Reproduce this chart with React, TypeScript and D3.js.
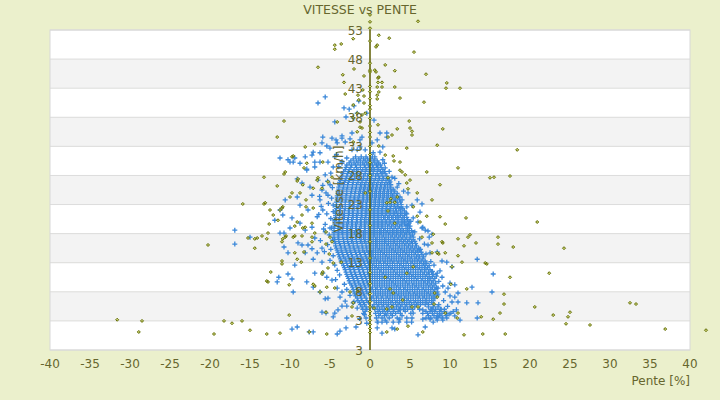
import { scaleLinear } from 'd3';
import React from 'react';

const width = 720;
const height = 400;

// axis ticks
const xTicks = [-40, -35, -30, -25, -20, -15, -10, -5, 0, 5, 10, 15, 20, 25, 30, 35, 40];
const yTicks = [53, 48, 43, 38, 33, 28, 23, 18, 13, 8, 3, -2];
const yTickLabels = ['53', '48', '43', '38', '33', '28', '23', '18', '13', '8', '3', '3'];

// blue series, dense core: [vitesse, pentes]
const blueCore: [number, number[]][] = [
	[31.2, [-1.8, -1.1, -0.5, 0.3]],
	[30.5, [-2.4, -1.7, -1.2, -0.6, -0.1, 0.4, 0.9]],
	[29.8, [-2.9, -2.3, -1.8, -1.2, -0.7, -0.2, 0.3, 0.8, 1.3]],
	[29.0, [-3.1, -2.6, -2.0, -1.5, -0.9, -0.4, 0.2, 0.6, 1.1, 1.6]],
	[28.3, [-3.4, -2.8, -2.3, -1.7, -1.2, -0.6, -0.1, 0.4, 0.9, 1.4, 1.9]],
	[27.5, [-3.6, -3.0, -2.5, -1.9, -1.4, -0.8, -0.3, 0.2, 0.7, 1.2, 1.7, 2.2]],
	[26.8, [-3.8, -3.2, -2.7, -2.1, -1.5, -1.0, -0.5, 0.1, 0.5, 1.0, 1.5, 2.0, 2.4]],
	[26.0, [-3.9, -3.3, -2.8, -2.2, -1.7, -1.1, -0.6, -0.1, 0.4, 0.9, 1.4, 1.9, 2.5]],
	[25.3, [-4.0, -3.4, -2.9, -2.3, -1.8, -1.2, -0.7, -0.2, 0.3, 0.8, 1.3, 1.8, 2.3, 2.7, 3.1]],
	[24.5, [-4.1, -3.5, -3.0, -2.4, -1.9, -1.3, -0.8, -0.3, 0.3, 0.8, 1.3, 1.8, 2.3, 2.8, 3.3]],
	[23.8, [-4.1, -3.6, -3.0, -2.5, -1.9, -1.4, -0.8, -0.3, 0.2, 0.7, 1.2, 1.7, 2.2, 2.7, 3.2, 3.7]],
	[23.0, [-4.2, -3.6, -3.1, -2.5, -2.0, -1.4, -0.9, -0.4, 0.2, 0.7, 1.2, 1.7, 2.2, 2.7, 3.1, 3.5, 3.9]],
	[22.3, [-4.2, -3.7, -3.1, -2.6, -2.0, -1.5, -0.9, -0.4, 0.1, 0.6, 1.1, 1.6, 2.1, 2.6, 3.2, 3.6, 4.1]],
	[21.5, [-4.3, -3.7, -3.2, -2.6, -2.1, -1.5, -1.0, -0.4, 0.1, 0.6, 1.1, 1.6, 2.1, 2.6, 3.1, 3.5, 4.0, 4.5]],
	[20.8, [-4.3, -3.8, -3.2, -2.7, -2.1, -1.6, -1.0, -0.5, 0.1, 0.6, 1.1, 1.7, 2.2, 2.7, 3.2, 3.6, 4.1, 4.6]],
	[20.0, [-4.4, -3.8, -3.3, -2.7, -2.2, -1.6, -1.1, -0.5, 0.0, 0.6, 1.1, 1.6, 2.1, 2.6, 3.1, 3.6, 4.1, 4.5, 4.9]],
	[19.3, [-4.4, -3.9, -3.3, -2.8, -2.2, -1.7, -1.1, -0.6, 0.1, 0.6, 1.1, 1.6, 2.2, 2.7, 3.2, 3.7, 4.0, 4.5, 5.0]],
	[18.5, [-4.5, -3.9, -3.4, -2.8, -2.3, -1.7, -1.2, -0.6, 0.1, 0.6, 1.2, 1.7, 2.2, 2.8, 3.3, 3.8, 4.2, 4.7, 5.2]],
	[17.8, [-4.5, -3.9, -3.4, -2.8, -2.3, -1.7, -1.2, -0.6, 0.1, 0.6, 1.2, 1.7, 2.3, 2.8, 3.3, 3.8, 4.3, 4.6, 5.0, 5.3]],
	[17.0, [-4.4, -3.9, -3.3, -2.8, -2.2, -1.7, -1.1, -0.6, 0.1, 0.7, 1.2, 1.8, 2.3, 2.9, 3.4, 3.9, 4.4, 4.9, 5.4]],
	[16.3, [-4.3, -3.8, -3.2, -2.7, -2.1, -1.6, -1.0, -0.5, 0.1, 0.7, 1.2, 1.8, 2.3, 2.9, 3.4, 4.0, 4.5, 5.0, 5.3, 5.7]],
	[15.5, [-4.2, -3.6, -3.1, -2.5, -2.0, -1.4, -0.9, -0.4, 0.1, 0.7, 1.2, 1.8, 2.4, 2.9, 3.5, 4.0, 4.6, 5.1, 5.6, 6.1]],
	[14.8, [-4.0, -3.5, -2.9, -2.4, -1.8, -1.3, -0.7, -0.2, 0.2, 0.7, 1.3, 1.8, 2.4, 3.0, 3.5, 4.1, 4.6, 5.2, 5.7, 6.0, 6.4]],
	[14.0, [-3.8, -3.3, -2.7, -2.2, -1.6, -1.1, -0.5, 0.2, 0.7, 1.3, 1.9, 2.4, 3.0, 3.6, 4.1, 4.7, 5.2, 5.8, 6.2, 6.7]],
	[13.3, [-3.6, -3.0, -2.5, -1.9, -1.4, -0.8, -0.3, 0.2, 0.8, 1.3, 1.9, 2.5, 3.0, 3.6, 4.2, 4.7, 5.3, 5.9, 6.4, 6.9]],
	[12.5, [-3.3, -2.8, -2.2, -1.7, -1.1, -0.6, -0.1, 0.3, 0.8, 1.4, 2.0, 2.5, 3.1, 3.7, 4.2, 4.8, 5.4, 5.9, 6.5, 6.9, 7.4]],
	[11.8, [-3.1, -2.5, -2.0, -1.4, -0.9, -0.3, 0.3, 0.9, 1.4, 2.0, 2.6, 3.1, 3.7, 4.3, 4.8, 5.4, 6.0, 6.5, 7.0, 7.5]],
	[11.0, [-2.9, -2.3, -1.8, -1.2, -0.7, -0.2, 0.3, 0.9, 1.5, 2.0, 2.6, 3.2, 3.7, 4.3, 4.9, 5.4, 6.0, 6.6, 7.1, 7.4, 7.9]],
	[10.3, [-2.7, -2.1, -1.6, -1.0, -0.5, 0.3, 0.9, 1.5, 2.1, 2.6, 3.2, 3.8, 4.3, 4.9, 5.5, 6.0, 6.6, 7.2, 7.6, 8.1]],
	[9.5, [-2.5, -1.9, -1.4, -0.8, -0.3, 0.3, 0.9, 1.5, 2.1, 2.7, 3.2, 3.8, 4.4, 4.9, 5.5, 6.1, 6.7, 7.2, 7.7, 8.2]],
	[8.8, [-2.2, -1.7, -1.1, -0.6, 0.3, 0.9, 1.5, 2.1, 2.7, 3.3, 3.8, 4.4, 5.0, 5.6, 6.1, 6.7, 7.3, 7.8, 8.3]],
	[8.0, [-2.0, -1.5, -0.9, -0.4, 0.4, 1.0, 1.6, 2.2, 2.7, 3.3, 3.9, 4.5, 5.0, 5.6, 6.2, 6.8, 7.3, 7.9, 8.4]],
	[7.3, [-1.8, -1.2, -0.7, 0.4, 1.0, 1.6, 2.2, 2.8, 3.4, 3.9, 4.5, 5.1, 5.7, 6.2, 6.8, 7.4, 7.9, 8.4]],
	[6.5, [-1.5, -1.0, -0.4, 0.5, 1.1, 1.7, 2.3, 2.8, 3.4, 4.0, 4.6, 5.1, 5.7, 6.3, 6.9, 7.4, 7.9]],
	[5.8, [-1.2, -0.7, 0.5, 1.1, 1.7, 2.3, 2.9, 3.5, 4.0, 4.6, 5.2, 5.8, 6.3, 6.9, 7.3, 8.0, 8.6]],
	[5.0, [-0.9, -0.4, 0.6, 1.2, 1.8, 2.4, 3.0, 3.6, 4.2, 4.7, 5.3, 6.2, 7.6, 8.2, 8.8, 9.3]],
	[4.3, [-0.8, 0.7, 1.3, 1.9, 2.6, 3.2, 3.8, 5.1, 6.6, 7.2, 7.8, 8.4, 9.0, 9.6, 10.1]],
	[3.5, [-0.5, 0.8, 1.5, 2.4, 3.4, 4.6, 7.0, 7.6, 8.3, 9.1]],
	[2.8, [1.0, 2.1, 3.6, 5.2, 7.9]],
];

// blue series, dense core, points lying between the rows above
const blueCoreMid: [number, number[]][] = [
	[30.85, [-2.1, -1.4, -0.8, -0.3, 0.1, 0.6]],
	[30.15, [-2.6, -2.0, -1.5, -0.9, -0.4, 0.1, 0.6, 1.1]],
	[29.4, [-3.0, -2.4, -1.7, -1.2, -0.6, -0.1, 0.4, 0.9, 1.4]],
	[28.65, [-3.3, -2.7, -2.2, -1.7, -1.1, -0.6, -0.1, 0.4, 0.9, 1.3, 1.8]],
	[27.9, [-3.5, -2.9, -2.4, -1.9, -1.3, -0.8, -0.3, 0.2, 0.7, 1.1, 1.6, 2.1]],
	[27.15, [-3.7, -3.1, -2.6, -2.1, -1.5, -1.0, -0.5, 0.0, 0.5, 1.0, 1.5, 2.0, 2.4]],
	[26.4, [-3.8, -3.3, -2.8, -2.2, -1.7, -1.2, -0.7, -0.2, 0.3, 0.8, 1.3, 1.8, 2.2, 2.6]],
	[25.65, [-3.9, -3.4, -2.9, -2.3, -1.8, -1.3, -0.8, -0.3, 0.2, 0.7, 1.2, 1.7, 2.2, 2.6, 2.9]],
	[24.9, [-4.0, -3.5, -2.9, -2.4, -1.9, -1.4, -0.9, -0.4, 0.1, 0.6, 1.1, 1.6, 2.1, 2.6, 3.0, 3.4]],
	[24.15, [-4.1, -3.6, -3.0, -2.5, -2.0, -1.5, -0.9, -0.4, 0.1, 0.6, 1.1, 1.6, 2.1, 2.6, 3.0, 3.5]],
	[23.4, [-4.2, -3.6, -3.1, -2.6, -2.1, -1.5, -1.0, -0.5, 0.1, 0.5, 1.0, 1.5, 2.0, 2.5, 3.0, 3.4, 3.8]],
	[22.65, [-4.2, -3.7, -3.1, -2.6, -2.1, -1.6, -1.0, -0.5, 0.0, 0.5, 1.0, 1.5, 2.0, 2.5, 3.0, 3.4, 3.9]],
	[21.9, [-4.3, -3.8, -3.2, -2.7, -2.2, -1.6, -1.1, -0.6, -0.1, 0.4, 0.9, 1.4, 1.9, 2.4, 2.9, 3.3, 3.8, 4.3]],
	[21.15, [-4.3, -3.8, -3.3, -2.7, -2.2, -1.7, -1.1, -0.6, -0.1, 0.4, 0.9, 1.4, 1.9, 2.4, 2.9, 3.4, 3.8, 4.3]],
	[20.4, [-4.4, -3.9, -3.3, -2.8, -2.3, -1.7, -1.2, -0.7, -0.2, 0.4, 0.9, 1.4, 1.9, 2.4, 2.9, 3.4, 3.9, 4.3, 4.7]],
	[19.65, [-4.4, -3.9, -3.4, -2.9, -2.3, -1.8, -1.2, -0.7, -0.2, 0.4, 0.9, 1.4, 1.9, 2.4, 2.9, 3.4, 3.9, 4.3, 4.8]],
	[18.9, [-4.5, -4.0, -3.4, -2.9, -2.4, -1.8, -1.3, -0.7, -0.2, 0.4, 0.9, 1.4, 1.9, 2.5, 3.0, 3.5, 4.0, 4.5, 4.9]],
	[18.15, [-4.5, -4.0, -3.5, -2.9, -2.4, -1.9, -1.3, -0.8, -0.2, 0.4, 0.9, 1.4, 2.0, 2.5, 3.0, 3.5, 4.0, 4.5, 4.9, 5.3]],
	[17.4, [-4.5, -4.0, -3.4, -2.9, -2.4, -1.8, -1.3, -0.8, -0.2, 0.4, 0.9, 1.5, 2.0, 2.6, 3.1, 3.6, 4.1, 4.6, 5.1, 5.4]],
	[16.65, [-4.4, -3.9, -3.3, -2.8, -2.3, -1.7, -1.2, -0.7, -0.2, 0.4, 0.9, 1.5, 2.0, 2.6, 3.1, 3.7, 4.2, 4.7, 5.2, 5.6]],
	[15.9, [-4.3, -3.7, -3.2, -2.6, -2.1, -1.6, -1.0, -0.5, -0.1, 0.4, 0.9, 1.5, 2.1, 2.6, 3.2, 3.7, 4.3, 4.8, 5.3, 5.8]],
	[15.15, [-4.1, -3.6, -3.0, -2.5, -1.9, -1.4, -0.9, -0.4, 0.0, 0.4, 1.0, 1.5, 2.1, 2.7, 3.2, 3.8, 4.3, 4.9, 5.4, 5.9, 6.2]],
	[14.4, [-3.9, -3.4, -2.8, -2.3, -1.7, -1.2, -0.6, -0.1, 0.4, 1.0, 1.6, 2.1, 2.7, 3.3, 3.8, 4.4, 4.9, 5.5, 6.0, 6.5]],
	[13.65, [-3.7, -3.1, -2.6, -2.0, -1.5, -0.9, -0.4, 0.0, 0.5, 1.0, 1.6, 2.2, 2.7, 3.3, 3.9, 4.4, 5.0, 5.6, 6.1, 6.6]],
	[12.9, [-3.5, -2.9, -2.4, -1.8, -1.3, -0.7, -0.2, 0.0, 0.5, 1.1, 1.7, 2.2, 2.8, 3.4, 3.9, 4.5, 5.1, 5.6, 6.2, 6.7, 7.1]],
	[12.15, [-3.2, -2.6, -2.1, -1.5, -1.0, -0.4, 0.0, 0.6, 1.1, 1.7, 2.3, 2.8, 3.4, 4.0, 4.5, 5.1, 5.7, 6.2, 6.8, 7.2]],
	[11.4, [-3.0, -2.4, -1.9, -1.3, -0.8, -0.3, 0.0, 0.6, 1.2, 1.7, 2.3, 2.9, 3.4, 4.0, 4.6, 5.1, 5.7, 6.3, 6.8, 7.3, 7.7]],
	[10.65, [-2.8, -2.2, -1.7, -1.1, -0.6, -0.1, 0.6, 1.2, 1.8, 2.3, 2.9, 3.5, 4.0, 4.6, 5.2, 5.7, 6.3, 6.9, 7.4, 7.8]],
	[9.9, [-2.6, -2.0, -1.5, -0.9, -0.4, 0.0, 0.6, 1.2, 1.8, 2.4, 2.9, 3.5, 4.1, 4.6, 5.2, 5.8, 6.4, 6.9, 7.4, 7.9]],
	[9.15, [-2.3, -1.8, -1.2, -0.7, -0.2, 0.6, 1.2, 1.8, 2.4, 3.0, 3.5, 4.1, 4.7, 5.3, 5.8, 6.4, 7.0, 7.5, 8.0]],
	[8.4, [-2.1, -1.6, -1.0, -0.5, 0.1, 0.7, 1.3, 1.9, 2.4, 3.0, 3.6, 4.2, 4.7, 5.3, 5.9, 6.5, 7.0, 7.6, 8.1]],
	[7.65, [-1.9, -1.3, -0.8, -0.2, 0.7, 1.3, 1.9, 2.5, 3.1, 3.6, 4.2, 4.8, 5.4, 5.9, 6.5, 7.1, 7.6, 8.1]],
	[6.9, [-1.6, -1.1, -0.5, 0.2, 0.8, 1.4, 2.0, 2.5, 3.1, 3.7, 4.3, 4.8, 5.4, 6.0, 6.6, 7.1, 7.7]],
	[6.15, [-1.3, -0.8, -0.2, 0.8, 1.4, 2.0, 2.6, 3.2, 3.7, 4.3, 4.9, 5.5, 6.0, 6.6, 7.1, 7.7]],
	[5.4, [-1.0, -0.5, 0.3, 0.9, 1.5, 2.1, 2.7, 3.3, 3.8, 4.4, 5.0, 5.6, 7.3, 7.9, 8.5]],
	[4.65, [-0.6, 1.0, 1.6, 2.2, 2.9, 3.5, 4.4, 7.0, 7.5, 8.1, 8.7, 9.3]],
	[3.9, [1.1, 1.8, 2.8, 4.0, 7.3, 8.0, 8.7, 9.5]],
];

// blue series, edges of the core: [pente, vitesse]
const blueFringe: [number, number][] = [
	[-4.9, 28.4], [-5.3, 27], [-4.7, 25.9], [-5.5, 25], [-4.8, 24.1], [-5.2, 23.2], [-4.6, 21.8],
	[-5.4, 21.4], [-4.9, 20.6], [-5.6, 19.6], [-4.8, 19], [-5.1, 17.8], [-4.7, 16.9], [-5.3, 16.1],
	[-4.9, 15.3], [-5.7, 14.9], [-4.6, 14.2], [-5.0, 13.4], [-4.4, 12.6], [-4.1, 11.7], [-3.8, 10.9],
	[-4.3, 10.1], [-3.2, 9.3], [-2.9, 8.4], [-2.5, 7.4], [-2.0, 6.3], [-1.6, 5.2], [-0.7, 4.1],
	[-1.3, 3.4], [-0.4, 2.6], [-5.9, 26.3], [-6.3, 24.4], [-6.1, 22.7], [-6.4, 21.3], [-5.8, 18.8],
	[-6.2, 16.8], [-6.0, 15.5], [-3.9, 29.5], [-3.5, 30.4], [-4.2, 31.6],
	[3.6, 26.6], [4.2, 25.3], [3.9, 22.5], [4.6, 21.4], [5.1, 20.1], [4.7, 19.4], [5.6, 18.3],
	[6.2, 17.1], [6.8, 16.2], [6.3, 15.3], [7.0, 14.5], [7.6, 13.2], [8.0, 12.6], [7.8, 11.5],
	[8.3, 10.7], [8.6, 9.8], [9.1, 9.0], [8.5, 7.6], [9.2, 6.5], [9.7, 5.5], [8.9, 5.0], [10.4, 4.6],
	[9.9, 4.2], [10.8, 4.9], [2.4, 28.7], [1.8, 30.1], [3.1, 27.5],
];

// blue series, scattered points above and left
const blueScatterLeft: [number, number][] = [
	[-5.6, 41.5], [-6.5, 40.45], [-3.25, 39.6], [-2.6, 39.4], [-2, 39.95], [-1.4, 40.8], [-3, 38.05],
	[-2.1, 37.9], [-1.6, 38.7], [-4.4, 37.2], [-0.4, 38.7], [0.5, 37.5],
	[-5.9, 34.6], [-6, 33.6], [-5, 32.7], [-3.1, 33.75], [-2.5, 34.3], [-1.25, 34.1], [-1, 34.6],
	[-2.25, 35.3], [-3.5, 34.4], [-4.1, 33.6], [-7.1, 32], [-8.1, 31.2], [-7.25, 31.5], [-8.75, 30.1],
	[-9.6, 30.3], [-10.25, 30.7], [-7.9, 28.9], [-6.9, 29.45], [-6.25, 30.3], [-5.25, 30.3], [-4.4, 31.2],
	[-4.6, 29.45], [-3.5, 30.1], [-2.9, 31], [-2.25, 32.4], [-1.6, 32.4], [-0.6, 32.4], [-1.25, 32.9],
	[-4.75, 34.4], [-4.25, 34.1], [-3.5, 34.8], [-5.4, 33.06],
	[-11.25, 31], [-10, 30.3], [-9.4, 31], [-6.9, 30.3], [-6.25, 31.9], [-7.9, 29.1], [-9.1, 27.4],
	[-8.5, 26.7], [-7.5, 26], [-9.1, 24.3], [-7.25, 24.6], [-6.25, 23.8], [-11.25, 22.06], [-10.9, 21.2],
	[-9.75, 20.7], [-8.75, 19.8], [-7.25, 19.1], [-6.6, 20.9], [-5.9, 22.06], [-6, 25.5], [-6.5, 27.2],
	[-5.6, 28.1], [-5, 26.4], [-5.25, 24.6], [-4.6, 22.9], [-4.4, 20.3], [-5, 18.97], [-5.6, 18.3],
	[-6.9, 17.25], [-8.1, 18.6], [-10, 18.97], [-11.9, 20.3], [-10.6, 23.8], [-8.75, 22.9], [-7.75, 22.06],
	[-16.9, 18.6], [-15, 17.4], [-16.9, 16.2], [-11.25, 18.1], [-10.75, 18.1], [-10.75, 15.7], [-10.25, 14.7],
	[-9.4, 12.6], [-9, 16.4], [-8.5, 16.05], [-7.75, 16.05], [-8.1, 14.7], [-7.25, 15.4], [-6.6, 14.7],
	[-7.1, 13.6], [-6, 13.1], [-11.4, 10.5], [-11.6, 9.7], [-10.25, 11.06], [-9.75, 10.2], [-9.6, 7.97],
	[-7.9, 9.7], [-6.9, 11.2], [-7.1, 8.8], [-6.25, 7.97], [-5.6, 6.8], [-5.25, 6.9], [-6, 4.5],
	[-5.5, 4.35], [-4.6, 3.7], [-4, 4.9], [-4.4, 4.35], [-2.9, 3.5], [-3, 1.8], [-3.75, 1.25],
	[-4.1, 0.75], [-7.6, 1.1], [-7.1, 1.1], [-9.1, 1.95], [-9.75, 1.6], [-3.5, 5.55], [-2.9, 5.55],
	[-2.1, 6.1], [-1.75, 1.95], [-4.75, 10], [-5.4, 10.5], [-5.9, 11.2], [-4.1, 8.65], [-3.5, 7.97],
	[-3.75, 7.1], [-3.1, 6.4],
];

// blue series, scattered points right of the axis
const blueScatterRight: [number, number][] = [
	[1.25, 35.3], [0.9, 34.1], [1.6, 32.9], [1.25, 32], [0.25, 33.6], [2.1, 35.3], [2.1, 34.6],
	[0.4, 31.9], [0.6, 31.2], [1.6, 30.7], [1, 29.8], [1.9, 29.3], [1.6, 28.6], [2.75, 27.7],
	[2.5, 26.9], [3.4, 26], [3.75, 24.3], [4, 23.8], [4.75, 25], [4.6, 22.6], [5.25, 22.9], [5.9, 23.8],
	[6.25, 21.7], [6.5, 23.1], [5.4, 20.7], [6, 20], [6.5, 18.97], [6.9, 18.6], [7.25, 18.45],
	[7.4, 17.4], [6.6, 19.1],
	[7.75, 17.9], [7.25, 16.05], [7.5, 14.7], [8.4, 14.85], [9, 13.3], [9.6, 13.1], [10.25, 12.3],
	[8.75, 11.6], [8.4, 11.2], [9, 10.5], [10, 9.5], [10.6, 9.2], [11, 7.8], [10, 7.3], [10.6, 7.1],
	[10.25, 6.25], [11, 6.25], [12.1, 6.1], [12.75, 8.8], [13.4, 13.6], [15.4, 11.06], [15.25, 7.97],
	[13.5, 6.1], [13.4, 3.5], [11.25, 3.15], [9.6, 3.5], [9, 3.5], [8.5, 3.7], [8.75, 4], [9.1, 3.15],
	[8.4, 3.15], [10.6, 3.85], [6.9, 1.95], [6, 0.6], [4.6, 2.8], [3.75, 3.3], [2.9, 2.8], [2.75, 1.8],
	[1.9, 3.15], [1.5, 2.8], [0.9, 2.8], [0.9, 1.8], [1.5, 0.9], [3.1, 1.6], [2.1, 4], [3.75, 4.9],
	[5.4, 4.35], [6.6, 4.9], [7.75, 4.9], [7.5, 3.3], [6.6, 3.3], [5.25, 3.5], [8.1, 6.9], [9.4, 7.97],
	[9.75, 8.65], [8.5, 8.65],
];

// olive series: [pente, vitesse]
const olivePoints: [number, number][] = [
	// upper part
	[6, 54.5], [1.1, 52.1], [2.4, 51.6], [0.9, 50.4], [0.75, 50.1], [5.5, 49.2], [-4.4, 50.4],
	[-4.4, 49.7], [-3.6, 50.6], [-2.1, 51.5], [-6.5, 46.6], [-2, 46.3], [-3.4, 45.3], [-3.25, 44],
	[-0.75, 45.1], [0.6, 46.1], [0.75, 45.8], [1.1, 44.9], [1, 44.75], [1, 44], [1.5, 44], [0.9, 43.2],
	[1.5, 43.2], [1.1, 42.35], [0.9, 41.8], [0.9, 41.15], [1.9, 47], [3.1, 46], [7, 45.4], [9.6, 43.9],
	[9.5, 43], [11.25, 43], [3.1, 43.2], [3.75, 41.3], [6.75, 40.6], [-0.9, 42.7], [-1.5, 41.8],
	[-0.75, 41.65], [-3.1, 42], [-2.1, 40.1], [-0.75, 40.45], [-1.4, 40.97], [-1.6, 38.7], [-1, 38.4],
	[-0.6, 38.7], [-2.1, 37.9], [-10.75, 37.35], [-4.1, 37.2], [-1.25, 36.3], [1, 36.7], [4.9, 37.35],
	[3.4, 36], [5, 36.15], [9.1, 36],
	// right, middle
	[2.75, 34.95], [5.25, 34.95], [5.25, 35.6], [2.25, 34.6], [4.6, 32.7], [8.4, 33.2], [18.4, 32.4],
	[1.9, 31.5], [2.9, 31.35], [3, 30.5], [3.75, 30.3], [1.1, 33.06], [7.1, 28.6], [11, 29.3],
	[3.75, 28.9], [4, 28.6], [4.4, 28.1], [5, 27.2], [15, 27.6], [15.5, 27.7], [17.5, 27.9], [4.6, 26.7],
	[8.75, 26.4], [5.9, 25], [4.75, 25.7], [7.75, 23.8], [2.25, 27.6], [2.5, 23.4], [3.1, 23.4],
	[3.4, 24.3], [5.4, 22.6], [8.75, 20.9], [7.1, 21], [5.9, 21], [12, 20.7], [9.4, 19.65], [20.9, 20],
	[6.25, 20], [16, 17.4], [12.5, 17.8], [12.25, 17.4], [11, 17.1], [7.9, 17.9], [6.5, 17.4],
	[3.1, 19.8], [2.25, 21.9], [2.6, 24], [2.1, 23.3],
	// right, lower
	[16, 16.2], [11.75, 15.9], [13.25, 16.4], [17.9, 15.7], [9, 16.6], [9.1, 16.4], [7.75, 16.4],
	[7.75, 14.7], [8.6, 14.5], [9.4, 14.7], [11, 14.2], [11.5, 13.1], [14.4, 12.95], [14.6, 12.8],
	[10.25, 12.3], [17.5, 10.5], [22.4, 11.2], [12.1, 8.5], [16.75, 7.6], [16.75, 5.9], [16.25, 4.35],
	[15.4, 3.3], [13.9, 3.7], [20.6, 5.4], [22.9, 4], [11.75, 0.6], [14.1, 0.75], [16.9, 0.75],
	[10.1, 9.3], [8.1, 7.8], [8.4, 7.1], [11, 4.35], [9.4, 4.35], [8, 5.9], [4.75, 2.1], [3.4, 1.6],
	[2.1, 1.1], [0.5, 5.2], [2.1, 5.05], [2.75, 5.4], [5.25, 5.4], [4.1, 6.6], [6.6, 1.1], [6, 5.4],
	[10.9, 3.5], [8.4, 14.7], [4.6, 11.2], [2.5, 8.5], [1.9, 10.5], [5.4, 12.3], [2.9, 7.8],
	[24.75, 3.7], [25, 4.5], [24.5, 2.5], [27.5, 2.3], [32.5, 6.1], [33.25, 5.9], [36.9, 1.6], [42, 1.4],
	[24.25, 15.5],
	// left
	[-11.6, 34.6], [-9.75, 31.2], [-9.6, 31.35], [-10.6, 28.6], [-10.75, 28.25], [-13.25, 27.7],
	[-11.6, 26.2], [-15.9, 23.1], [-13.1, 23.3], [-13.25, 23.1], [-12.5, 22.06], [-11.25, 22.06],
	[-11, 22.4], [-10.9, 22.6], [-12.1, 21.2], [-11.5, 20.3], [-12.6, 19.65], [-10, 24.3], [-9.75, 25],
	[-9.1, 27.05], [-9, 27.4], [-8.25, 29.3], [-7.9, 30.1], [-6.9, 33.4], [-6.6, 27.2], [-6.5, 27.6],
	[-8.4, 26.4], [-8, 23.8], [-8, 22.6], [-8.5, 21.2], [-9.1, 20], [-9.4, 19.3], [-9.6, 17.4],
	[-14.1, 17.25], [-8.4, 18.97], [-7.25, 19.8], [-7.1, 22.4], [-6, 25.8], [-5.25, 26.9], [-4.75, 27.7],
	[-5.9, 30.3], [-8.1, 32.9], [-2.1, 33.75], [-1.6, 35.5], [-1, 36.15], [-1.25, 37.2], [-7.1, 25.8],
	[-8.75, 25], [-10.6, 17.4], [-8.1, 19.1], [-7.25, 16.6], [-5.5, 18.3], [-5, 17.4], [-0.6, 25],
	[-20.25, 16.05], [-14.4, 17.1], [-12.75, 18.1], [-12.9, 17.1], [-11, 13.3], [-11, 12.8], [-12.4, 11.4],
	[-12.9, 9.85], [-10.1, 9.2], [-9.4, 14.7], [-9.1, 13.6], [-8.6, 13.1], [-8.25, 14.85], [-10.1, 4],
	[-18.25, 3], [-17.25, 2.6], [-16, 3], [-15, 1.4], [-19.5, 0.75], [-12.9, 0.75], [-11.25, 0.9],
	[-7.6, 1.1], [-5.4, 0.75], [-7.1, 9.3], [-6.9, 9], [-6.25, 7.97], [-5.4, 8.8], [-4.4, 8.65],
	[-5.5, 4.5], [-2.5, 7.97], [-2.1, 6.1], [-1.5, 8.1], [-2.25, 5.4], [-2.25, 3.85], [-3.6, 13.1],
	[-4.6, 12.95], [-5.25, 12.1], [-5.9, 11.4], [-6, 11.06], [-5.1, 14.5], [-5.5, 16.2], [-4.75, 16.6],
	[-8.5, 17.6], [-9.4, 17.6], [-11, 16.6], [-10.9, 17.1], [-10.5, 17.6], [-7.25, 17.4], [-6.9, 18.1],
	[-31.6, 3.2], [-28.5, 3], [-28.9, 1.1], [-14.4, 15.5], [-15.25, 17.25], [-13.5, 17.6], [-12.75, 9.7],
];

// olive series, points at zero slope (vitesse)
const oliveAxis: number[] = [
	55.6, 54.4, 53.3, 51.1, 47.3, 46.1, 45.8, 43.3, 42.4, 41.2, 40.0, 39.4, 37.8, 36.5, 35.4, 34.6,
	33.0, 31.6, 30.2, 28.0, 25.3, 22.1, 19.4, 16.6, 13.8, 11.3, 9.4, 7.7, 6.3, 5.4, 4.6, 3.9, 3.1,
	2.4, 1.7, 1.0,
];

const textColor = '#66662e';
const font = 'DejaVu Sans, Verdana, sans-serif';

const App = () => {
	const x = scaleLinear().domain([-40, 40]).range([50, 690]);
	const y = scaleLinear().domain([-2, 53]).range([350, 30]);

	const rows = [...blueCore, ...blueCoreMid];
	const blue: [number, number][] = [
		...rows.flatMap(([v, ps]) => ps.map(p => [p, v] as [number, number])),
		...blueFringe,
		...blueScatterLeft,
		...blueScatterRight,
	];
	const olive: [number, number][] = [...olivePoints, ...oliveAxis.map(v => [0, v] as [number, number])];

	const bluePath = blue
		.map(([p, v]) => {
			const cx = x(p);
			const cy = y(v);
			return `M${cx - 2.5},${cy}h5M${cx},${cy - 2.5}v5`;
		})
		.join('');
	const olivePath = olive
		.map(([p, v]) => {
			const cx = x(p);
			const cy = y(v);
			return `M${cx},${cy - 1.5}l1.5,1.5l-1.5,1.5l-1.5,-1.5z`;
		})
		.join('');

	return (
		<svg
			width={width}
			height={height}
			style={{ position: 'absolute', left: 0, top: 0, fontFamily: font }}
		>
			<rect width={width} height={height} fill="#ebf0cc" />
			{yTicks.slice(0, -1).map((t, i) => (
				<rect
					key={t}
					x={x(-40)}
					y={y(t)}
					width={x(40) - x(-40)}
					height={y(yTicks[i + 1]) - y(t)}
					fill={i % 2 ? '#f3f3f3' : '#ffffff'}
				/>
			))}
			{yTicks.map(t => (
				<line key={t} x1={x(-40)} x2={x(40)} y1={y(t)} y2={y(t)} stroke="#dcdcdc" />
			))}
			<rect
				x={x(-40)}
				y={y(53)}
				width={x(40) - x(-40)}
				height={y(-2) - y(53)}
				fill="none"
				stroke="#d8d8d8"
			/>
			<path d={bluePath} stroke="#3b88d9" strokeWidth={1.3} fill="none" />
			<line x1={x(0)} x2={x(0)} y1={y(53)} y2={y(-2)} stroke="#5c5c00" strokeWidth={1.5} />
			<path d={olivePath} stroke="#5f6a00" strokeWidth={1} fill="#cfd67a" />
			{yTicks.map((t, i) => (
				<text key={t} x={x(0) - 7} y={y(t) + 4.5} textAnchor="end" fontSize={12} fill={textColor}>
					{yTickLabels[i]}
				</text>
			))}
			<text
				transform={`translate(${x(0) - 27},189) rotate(-90)`}
				textAnchor="middle"
				fontSize={12}
				fill={textColor}
			>
				Vitesse [km/h]
			</text>
			{xTicks.map(t => (
				<text key={t} x={x(t)} y={368} textAnchor="middle" fontSize={12} fill={textColor}>
					{t}
				</text>
			))}
			<text x={x(40)} y={385} textAnchor="end" fontSize={12} fill={textColor}>
				Pente [%]
			</text>
			<text x={360} y={14} textAnchor="middle" fontSize={12.5} fill={textColor}>
				VITESSE vs PENTE
			</text>
		</svg>
	);
};

export default App;
